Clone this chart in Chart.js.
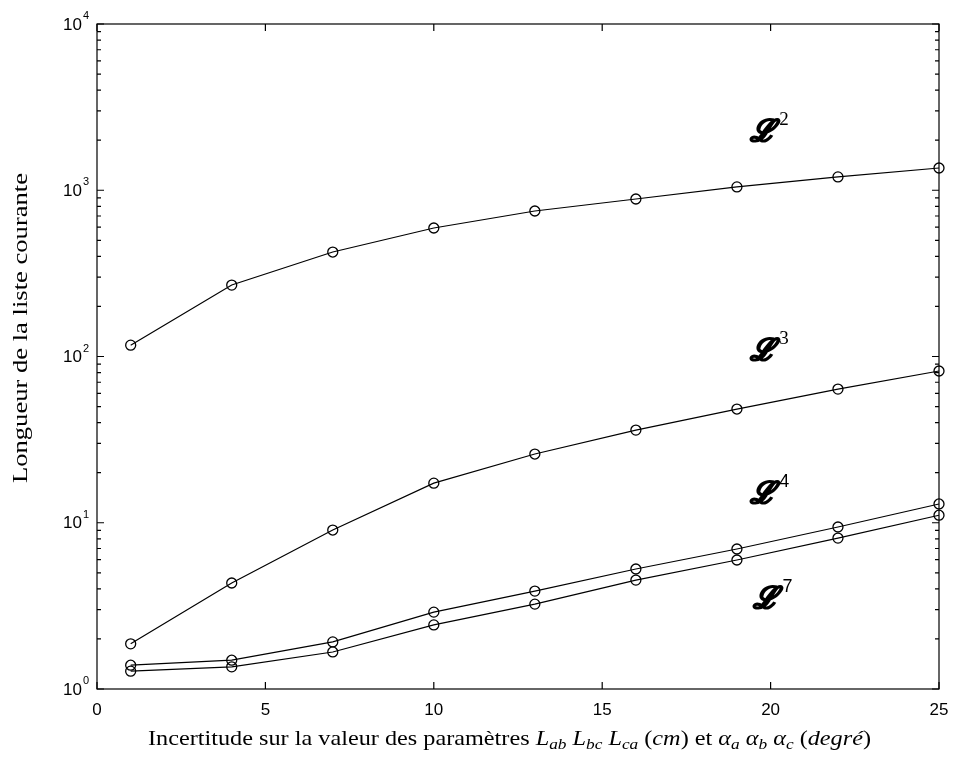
<!DOCTYPE html>
<html>
<head>
<meta charset="utf-8">
<script src="https://cdn.jsdelivr.net/npm/chart.js@4.4.1/dist/chart.umd.min.js"></script>
<style>
  body { margin: 0; background: #fff; }
  #wrap { width: 953px; height: 760px; }
</style>
</head>
<body>
<div id="wrap"><canvas id="lenChart"></canvas></div>
<script>
const xValues = [1, 4, 7, 10, 13, 16, 19, 22, 25];
const l2 = [117, 269, 425, 593, 750, 886, 1047, 1203, 1361];
const l3 = [1.87, 4.34, 9.04, 17.3, 25.9, 36.1, 48.3, 63.7, 81.8];
const l4 = [1.39, 1.49, 1.92, 2.90, 3.88, 5.27, 6.95, 9.43, 12.97];
const l7 = [1.28, 1.36, 1.67, 2.43, 3.24, 4.52, 5.97, 8.09, 11.1];

const xTicks = [0, 5, 10, 15, 20, 25];
const yTicks = [1, 10, 100, 1000, 10000];
const yTickExp = ['0', '1', '2', '3', '4'];

// curve labels (script L with exponent)
const curveNames = ['2', '3', '4', '7'];
const labelX = [19.75, 19.75, 19.75, 19.85];
const labelY = [2210, 106, 14.7, 3.43];

const ctx = document.getElementById('lenChart').getContext('2d');

const mkSet = (vals) => ({
  data: xValues.map((x, i) => ({ x: x, y: vals[i] })),
  borderColor: '#000',
  borderWidth: 1.2,
  pointRadius: 5,
  pointBorderWidth: 1.3,
  pointBackgroundColor: 'rgba(0,0,0,0)',
  pointBorderColor: '#000',
  pointHoverRadius: 5,
  tension: 0,
  clip: false
});

const framePlugin = {
  id: 'frame',
  afterDraw(chart) {
    const c = chart.ctx;
    const a = chart.chartArea;
    const xs = chart.scales.x, ys = chart.scales.y;
    c.save();
    c.strokeStyle = '#000';
    c.lineWidth = 1.2;
    c.strokeRect(a.left, a.top, a.right - a.left, a.bottom - a.top);

    // x ticks, inward, bottom and top
    c.beginPath();
    xTicks.forEach(v => {
      const px = xs.getPixelForValue(v);
      c.moveTo(px, a.bottom); c.lineTo(px, a.bottom - 7);
      c.moveTo(px, a.top); c.lineTo(px, a.top + 7);
    });
    // y ticks, major + minor, left and right
    for (let d = 0; d < yTicks.length; d++) {
      for (let m = 1; m <= 9; m++) {
        const v = yTicks[d] * m;
        if (v > yTicks[yTicks.length - 1]) break;
        const py = ys.getPixelForValue(v);
        const len = m === 1 ? 7 : 4;
        c.moveTo(a.left, py); c.lineTo(a.left + len, py);
        c.moveTo(a.right, py); c.lineTo(a.right - len, py);
      }
    }
    c.stroke();

    // y tick labels 10^k
    c.fillStyle = '#000';
    c.textBaseline = 'middle';
    yTicks.forEach((v, i) => {
      const py = ys.getPixelForValue(v);
      c.font = '11px "Liberation Sans"';
      c.textAlign = 'right';
      c.fillText(yTickExp[i], a.left - 8, py - 8);
      const ew = c.measureText(yTickExp[i]).width;
      c.font = '17px "Liberation Sans"';
      c.fillText('10', a.left - 9 - ew, py + 1);
    });

    // curve labels
    curveNames.forEach((n, i) => {
      const px = xs.getPixelForValue(labelX[i]);
      const py = ys.getPixelForValue(labelY[i]);
      c.textAlign = 'center';
      c.textBaseline = 'middle';
      c.font = 'bold italic 30px "DejaVu Serif"';
      c.lineWidth = 1.6;
      c.fillText('\u2112', px, py);
      c.strokeText('\u2112', px, py);
      c.textAlign = 'left';
      c.font = i < 2 ? '19px "Liberation Serif"' : '18px "Liberation Sans"';
      c.fillText(n, px + 17, py - 13);
    });

    // y title, stretched to the reference length
    c.save();
    c.font = '21px "Liberation Serif"';
    const yt = 'Longueur de la liste courante';
    const yw = c.measureText(yt).width;
    c.translate(27, 328);
    c.rotate(-Math.PI / 2);
    c.scale(310 / yw, 1);
    c.textAlign = 'center';
    c.textBaseline = 'alphabetic';
    c.fillText(yt, 0, 0);
    c.restore();

    // x title with italic subscripts
    const segs = [
      ['Incertitude sur la valeur des param\u00e8tres ', 'n'],
      ['L', 'i'], ['ab', 's'], [' ', 'n'], ['L', 'i'], ['bc', 's'], [' ', 'n'],
      ['L', 'i'], ['ca', 's'], [' (', 'n'], ['cm', 'i'], [') et ', 'n'],
      ['\u03b1', 'i'], ['a', 's'], [' ', 'n'], ['\u03b1', 'i'], ['b', 's'], [' ', 'n'],
      ['\u03b1', 'i'], ['c', 's'], [' (', 'n'], ['degr\u00e9', 'i'], [')', 'n']
    ];
    const fontFor = s => s === 'n' ? '21px "Liberation Serif"'
      : s === 'i' ? 'italic 21px "Liberation Serif"' : 'italic 15px "Liberation Serif"';
    let total = 0;
    segs.forEach(([t, s]) => { c.font = fontFor(s); total += c.measureText(t).width; });
    c.save();
    c.translate(148, 0);
    c.scale(723 / total, 1);
    let x = 0;
    c.textAlign = 'left';
    c.textBaseline = 'alphabetic';
    segs.forEach(([t, s]) => {
      c.font = fontFor(s);
      c.fillText(t, x, s === 's' ? 749 : 745);
      x += c.measureText(t).width;
    });
    c.restore();
    c.restore();
  }
};

new Chart(ctx, {
  type: 'line',
  data: { datasets: [mkSet(l2), mkSet(l3), mkSet(l4), mkSet(l7)] },
  options: {
    responsive: true,
    maintainAspectRatio: false,
    animation: false,
    layout: { padding: { top: 24, right: 14, left: 0, bottom: 0 } },
    scales: {
      x: {
        type: 'linear',
        min: 0,
        max: 25,
        afterBuildTicks: (scale) => { scale.ticks = xTicks.map(v => ({ value: v })); },
        afterFit: (scale) => {
          scale.height = 71;
          scale.paddingLeft = 0;
          scale.paddingRight = 0;
        },
        grid: { display: false, drawTicks: false },
        border: { display: false },
        ticks: {
          padding: 11,
          color: '#000',
          font: { family: 'Liberation Sans', size: 17 }
        }
      },
      y: {
        type: 'logarithmic',
        min: 1,
        max: 10000,
        afterFit: (scale) => { scale.width = 97; },
        grid: { display: false, drawTicks: false },
        border: { display: false },
        ticks: { display: false }
      }
    },
    plugins: {
      legend: { display: false },
      tooltip: { enabled: false }
    }
  },
  plugins: [framePlugin]
});
</script>
</body>
</html>
